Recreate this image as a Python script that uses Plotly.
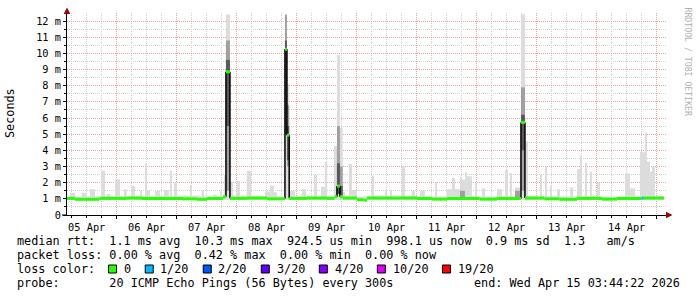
import pandas as pd
import plotly.graph_objects as go

# ---------------- data ----------------
ORIGIN = pd.Timestamp("2026-04-05 00:00:00")
VIEW_START_H = 4.12      # hours after ORIGIN where the graph starts
VIEW_SPAN_H = 240.0      # 10 days shown
SMOKE_MIN = 0.93         # ms, lowest ping (smoke floor)

# light smoke: full spread of the 20 pings (hours after ORIGIN, ms)
smoke_start = [4.1, 5.3, 10.0, 13.3, 17.7, 20.0, 23.3, 26.9, 30.0, 33.3, 35.3, 36.1, 39.3, 42.9,
               45.3, 46.9, 48.1, 53.3, 54.1, 58.0, 62.5, 65.3, 66.9, 67.7, 69.3, 72.0, 76.0, 83.3,
               85.3, 86.9, 91.3, 92.1, 93.3, 98.1, 102.9, 105.7, 107.3, 110.9, 112.1, 113.3, 114.4,
               116.9, 118.1, 126.0, 131.3, 133.3, 138.0, 142.0, 145.3, 151.3, 156.0, 158.1, 159.3,
               161.3, 162.1, 163.3, 164.1, 167.3, 170.1, 176.1, 179.3, 181.3, 183.3, 185.7, 187.3,
               193.3, 195.3, 197.3, 200.1, 205.3, 208.1, 209.3, 211.3, 213.3, 216.1, 227.3, 229.3,
               233.3, 235.3, 236.1, 237.3, 238.1]
smoke_end = [242.9, 7.3, 12.0, 15.3, 19.3, 21.3, 25.3, 28.0, 31.3, 34.1, 36.1, 37.3, 41.3, 44.9,
             46.1, 48.1, 52.1, 54.1, 57.3, 58.9, 64.1, 66.1, 67.7, 69.3, 70.5, 73.3, 77.7, 85.3,
             86.9, 88.1, 92.1, 93.0, 95.3, 99.7, 104.1, 107.3, 108.2, 112.1, 113.3, 114.4, 115.3,
             118.1, 120.1, 126.9, 132.1, 134.1, 139.3, 143.3, 147.3, 152.1, 158.1, 159.3, 161.3,
             162.1, 163.3, 164.1, 166.1, 168.1, 171.3, 178.1, 180.5, 182.1, 185.3, 187.3, 188.5,
             194.1, 196.1, 198.1, 201.3, 206.5, 209.3, 210.1, 212.1, 214.1, 217.3, 229.3, 231.3,
             235.3, 236.1, 237.3, 238.1, 239.3]
smoke_top = [1.15, 1.38, 1.38, 1.6, 2.74, 1.3, 2.22, 1.6, 1.81, 1.5, 3.19, 1.5, 1.5, 1.55,
             2.74, 2.0, 1.2, 1.85, 1.2, 1.5, 1.25, 1.48, 2.47, 12.4, 2.0, 2.1, 2.74, 1.45,
             1.8, 1.4, 12.4, 8.1, 1.48, 1.6, 2.5, 1.75, 3.3, 4.28, 9.9, 5.4, 1.44,
             3.15, 1.55, 2.43, 1.55, 1.55, 3.03, 1.5, 1.5, 2.06, 1.6, 2.29, 1.6,
             2.35, 2.2, 2.64, 2.4, 1.95, 1.65, 1.6, 2.78, 2.6, 1.7, 12.4, 4.57,
             2.5, 3.0, 1.8, 1.6, 1.7, 2.84, 3.67, 3.23, 2.68, 2.0, 2.57, 1.65,
             3.9, 5.09, 3.3, 2.68, 3.0]

# medium smoke (denser ping band)
mid_start = [67.7, 91.3, 92.1, 112.1, 113.3, 161.3, 183.3, 185.7]
mid_end = [69.3, 92.1, 93.0, 113.3, 114.4, 163.3, 185.3, 187.3]
mid_lo = [1.5, 5.0, 3.0, 1.3, 1.2, 1.05, 1.1, 1.5]
mid_hi = [10.8, 12.4, 6.8, 5.5, 3.0, 1.5, 1.5, 7.9]

# dark smoke (pings closest to the median)
dark_start = [67.7, 91.3, 92.1, 112.1, 113.3, 185.7]
dark_end = [69.3, 92.1, 93.0, 113.3, 114.4, 187.3]
dark_lo = [5.5, 5.0, 3.4, 1.3, 1.2, 4.0]
dark_hi = [9.6, 10.8, 5.5, 3.2, 1.8, 6.2]

# median rtt step function (hours after ORIGIN, ms, loss level index); last entry = end of data
med_t = [4.1, 7.3, 17.1, 28.1, 34.1, 50.1, 56.1, 60.1, 66.5, 67.7, 69.3, 76.1, 84.1, 91.3, 92.1,
         93.0, 100.1, 108.1, 111.1, 112.1, 113.3, 114.4, 120.1, 122.6, 124.1, 144.1, 150.1, 156.1,
         169.1, 176.1, 185.7, 187.3, 195.1, 201.1, 208.1, 218.1, 224.1, 234.0, 234.8, 242.9]
med_v = [1.03, 0.97, 1.03, 1.05, 1.02, 1.0, 0.97, 1.02, 1.13, 8.86, 1.03, 1.05, 1.0, 10.26, 4.94,
         1.03, 1.05, 1.03, 1.13, 1.79, 1.13, 1.05, 0.95, 0.92, 1.05, 1.02, 0.98, 1.02,
         0.98, 1.02, 5.73, 1.05, 1.0, 0.97, 1.03, 0.98, 1.02, 1.05, 1.05, 1.05]
med_loss = [0, 0, 0, 0, 0, 0, 0, 0, 0, 0, 0, 0, 0, 0, 0,
            0, 0, 0, 0, 0, 0, 0, 0, 0, 0, 0, 0, 0,
            0, 0, 0, 0, 0, 0, 0, 0, 0, 1, 0, 0]

loss_labels = ["0", "1/20", "2/20", "3/20", "4/20", "10/20", "19/20"]
loss_colors = ["#26ff00", "#00b8ff", "#0059ff", "#5e00ff", "#7e00ff", "#dd00ff", "#ff0000"]

y_ticks = [0, 1, 2, 3, 4, 5, 6, 7, 8, 9, 10, 11, 12]
y_labels = ["0", "1 m", "2 m", "3 m", "4 m", "5 m", "6 m", "7 m", "8 m", "9 m", "10 m", "11 m", "12 m"]

stats_rtt = "median rtt:  1.1 ms avg  10.3 ms max  924.5 us min  998.1 us now  0.9 ms sd  1.3   am/s"
stats_loss = "packet loss: 0.00 % avg  0.42 % max  0.00 % min  0.00 % now"
probe_text = "probe:       20 ICMP Echo Pings (56 Bytes) every 300s"
end_text = "end: Wed Apr 15 03:44:22 2026"

# ---------------- layout constants ----------------
W, H = 697, 297
L, R, T, B = 67, 667, 13, 215
MONO = "DejaVu Sans Mono"
CW = 7.12          # legend char advance (px)
TX0 = 16           # legend text left edge (px)
HOUR_MS = 3600 * 1000
Y_MAX = 12.5


def t(h):
    return ORIGIN + pd.to_timedelta(h, unit="h")


def px(x):
    return (x - L) / (R - L)


def py(y):
    return (B - y) / (B - T)


def nb(s):
    return s.replace(" ", "\u00a0")


fig = go.Figure()


def add_bars(starts, ends, los, his, color):
    fig.add_trace(go.Bar(
        x=[t((a + b) / 2) for a, b in zip(starts, ends)],
        y=[h - lo for lo, h in zip(los, his)],
        base=los,
        width=[(b - a) * HOUR_MS for a, b in zip(starts, ends)],
        marker=dict(color=color, line=dict(width=0)),
        hoverinfo="skip", showlegend=False))


add_bars(smoke_start, smoke_end, [SMOKE_MIN] * len(smoke_top), smoke_top, "#dcdcdc")
add_bars(mid_start, mid_end, mid_lo, mid_hi, "#a0a0a0")
add_bars(dark_start, dark_end, dark_lo, dark_hi, "#5a5a5a")

# black connectors where the median jumps
vx, vy = [], []
for i in range(1, len(med_t) - 1):
    if abs(med_v[i] - med_v[i - 1]) > 0.5:
        vx += [t(med_t[i]), t(med_t[i]), None]
        vy += [med_v[i - 1], med_v[i], None]
fig.add_trace(go.Scatter(x=vx, y=vy, mode="lines", line=dict(color="#000000", width=1.5),
                         hoverinfo="skip", showlegend=False))

# median, coloured by loss
for lvl in sorted(set(med_loss[:-1])):
    xs, ys = [], []
    for i in range(len(med_t) - 1):
        if med_loss[i] == lvl:
            xs += [t(med_t[i]), t(med_t[i + 1]), None]
            ys += [med_v[i], med_v[i], None]
    fig.add_trace(go.Scatter(x=xs, y=ys, mode="lines",
                             line=dict(color=loss_colors[lvl], width=3),
                             hoverinfo="skip", showlegend=False))

RED_GRID = "#e8a4a4"
GRAY_GRID = "#cfcfcf"

fig.update_layout(
    width=W, height=H,
    margin=dict(l=L, r=W - R, t=T, b=H - B, pad=0),
    paper_bgcolor="#ffffff", plot_bgcolor="#ffffff",
    barmode="overlay", showlegend=False,
    font=dict(family=MONO, color="#000000"),
    xaxis=dict(
        type="date",
        range=[t(VIEW_START_H), t(VIEW_START_H + VIEW_SPAN_H)],
        tick0="2026-04-05", dtick=86400000,
        tickformat="%d %b", ticklabelmode="period",
        showgrid=True, gridcolor=RED_GRID, griddash="1px,1px", gridwidth=1,
        ticks="outside", ticklen=3, tickcolor="#000000",
        showline=True, linecolor="#000000", linewidth=1,
        zeroline=False,
        tickfont=dict(family=MONO, size=10.3, color="#000000"),
        minor=dict(dtick=6 * HOUR_MS, showgrid=True, gridcolor=GRAY_GRID,
                   griddash="1px,1px", ticks="outside", ticklen=2, tickcolor="#000000"),
        fixedrange=True,
    ),
    yaxis=dict(
        range=[0, Y_MAX],
        tickmode="array", tickvals=y_ticks, ticktext=y_labels,
        showgrid=True, gridcolor=RED_GRID, griddash="1px,1px", gridwidth=1,
        ticks="outside", ticklen=3, tickcolor="#000000",
        showline=True, linecolor="#000000", linewidth=1,
        zeroline=False,
        tickfont=dict(family=MONO, size=10.3, color="#000000"),
        minor=dict(dtick=0.5, tick0=0, showgrid=True, gridcolor=GRAY_GRID,
                   griddash="1px,1px", ticks="outside", ticklen=2, tickcolor="#000000"),
        fixedrange=True,
    ),
)

shapes = []
ARROW = "#a00000"
# x axis line starts a bit left of the y axis
shapes.append(dict(type="line", xref="paper", yref="paper", layer="above",
                   x0=px(62), x1=px(67), y0=py(215), y1=py(215),
                   line=dict(color="#000000", width=1)))
# arrow heads as small filled rectangles stacked into triangles
for k in range(6):
    half = (6 - k) / 2.0
    # y axis head (pointing up)
    shapes.append(dict(type="rect", xref="paper", yref="paper", layer="above",
                       x0=px(67 - half), x1=px(67 + half),
                       y0=py(14 - k), y1=py(13 - k),
                       fillcolor=ARROW, line=dict(width=0)))
    # x axis head (pointing right)
    shapes.append(dict(type="rect", xref="paper", yref="paper", layer="above",
                       x0=px(666 + k), x1=px(667 + k),
                       y0=py(215 + half), y1=py(215 - half),
                       fillcolor=ARROW, line=dict(width=0)))

annotations = []


def text_at(x, y, s, size=11.8, anchor="left", color="#000000"):
    annotations.append(dict(xref="paper", yref="paper", x=px(x), y=py(y), text=nb(s),
                            showarrow=False, xanchor=anchor, yanchor="middle", borderpad=0,
                            font=dict(family=MONO, size=size, color=color)))


text_at(TX0, 241, stats_rtt)
text_at(TX0, 255, stats_loss)
text_at(TX0, 269, "loss color:")
col = 13.0
for lab, colr in zip(loss_labels, loss_colors):
    bx = TX0 + col * CW
    shapes.append(dict(type="rect", xref="paper", yref="paper",
                       x0=px(bx), x1=px(bx + 8), y0=py(265), y1=py(273),
                       fillcolor=colr, line=dict(color="#000000", width=1)))
    text_at(TX0 + (col + 2) * CW, 269, lab)
    col = col + 2 + len(lab) + 2.15
text_at(TX0, 283, probe_text)
text_at(681, 283, end_text, anchor="right")

# y axis title
annotations.append(dict(xref="paper", yref="paper", x=px(10), y=py(113), text="Seconds",
                        textangle=-90, showarrow=False, xanchor="center", yanchor="middle",
                        font=dict(family=MONO, size=11.8, color="#000000")))
# watermark
annotations.append(dict(xref="paper", yref="paper", x=px(687), y=py(5), text=nb("RRDTOOL / TOBI OETIKER"),
                        textangle=90, showarrow=False, xanchor="center", yanchor="top",
                        font=dict(family=MONO, size=8.2, color="#b0b0b0")))

fig.update_layout(shapes=shapes, annotations=annotations)

fig.write_html("out.html", config={"displayModeBar": False, "staticPlot": True})
